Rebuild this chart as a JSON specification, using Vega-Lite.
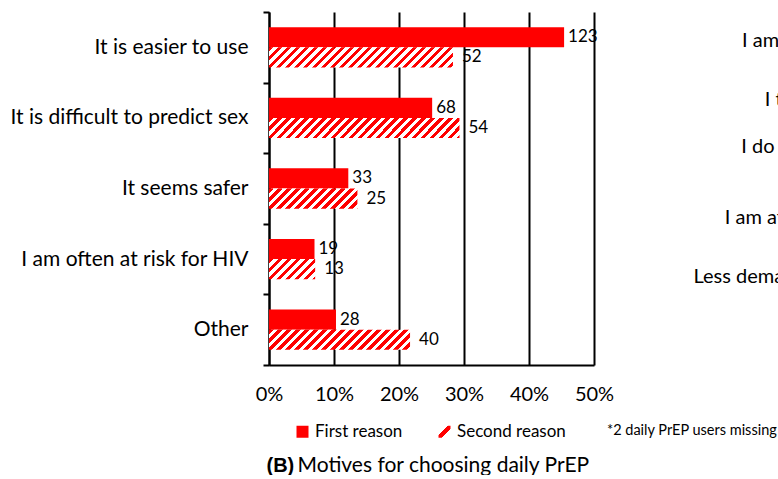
{
  "$schema": "https://vega.github.io/schema/vega-lite/v6.json",
  "padding": {"left": 9, "top": 1, "right": 0, "bottom": 0},
  "bounds": "flush",
  "spacing": 329,
  "config": {"view": {"stroke": null}, "font": "Lato"},
  "params": [
    {"name": "hatchStops", "value": [{"offset":0,"color":"#f00"},
{"offset":0.017857,"color":"#f00"},{"offset":0.017857,"color":"#fff"},
{"offset":0.035714,"color":"#fff"},{"offset":0.035714,"color":"#f00"},
{"offset":0.053571,"color":"#f00"},{"offset":0.053571,"color":"#fff"},
{"offset":0.071429,"color":"#fff"},{"offset":0.071429,"color":"#f00"},
{"offset":0.089286,"color":"#f00"},{"offset":0.089286,"color":"#fff"},
{"offset":0.107143,"color":"#fff"},{"offset":0.107143,"color":"#f00"},
{"offset":0.125,"color":"#f00"},{"offset":0.125,"color":"#fff"},
{"offset":0.142857,"color":"#fff"},{"offset":0.142857,"color":"#f00"},
{"offset":0.160714,"color":"#f00"},{"offset":0.160714,"color":"#fff"},
{"offset":0.178571,"color":"#fff"},{"offset":0.178571,"color":"#f00"},
{"offset":0.196429,"color":"#f00"},{"offset":0.196429,"color":"#fff"},
{"offset":0.214286,"color":"#fff"},{"offset":0.214286,"color":"#f00"},
{"offset":0.232143,"color":"#f00"},{"offset":0.232143,"color":"#fff"},
{"offset":0.25,"color":"#fff"},{"offset":0.25,"color":"#f00"},
{"offset":0.267857,"color":"#f00"},{"offset":0.267857,"color":"#fff"},
{"offset":0.285714,"color":"#fff"},{"offset":0.285714,"color":"#f00"},
{"offset":0.303571,"color":"#f00"},{"offset":0.303571,"color":"#fff"},
{"offset":0.321429,"color":"#fff"},{"offset":0.321429,"color":"#f00"},
{"offset":0.339286,"color":"#f00"},{"offset":0.339286,"color":"#fff"},
{"offset":0.357143,"color":"#fff"},{"offset":0.357143,"color":"#f00"},
{"offset":0.375,"color":"#f00"},{"offset":0.375,"color":"#fff"},
{"offset":0.392857,"color":"#fff"},{"offset":0.392857,"color":"#f00"},
{"offset":0.410714,"color":"#f00"},{"offset":0.410714,"color":"#fff"},
{"offset":0.428571,"color":"#fff"},{"offset":0.428571,"color":"#f00"},
{"offset":0.446429,"color":"#f00"},{"offset":0.446429,"color":"#fff"},
{"offset":0.464286,"color":"#fff"},{"offset":0.464286,"color":"#f00"},
{"offset":0.482143,"color":"#f00"},{"offset":0.482143,"color":"#fff"},
{"offset":0.5,"color":"#fff"},{"offset":0.5,"color":"#f00"},
{"offset":0.517857,"color":"#f00"},{"offset":0.517857,"color":"#fff"},
{"offset":0.535714,"color":"#fff"},{"offset":0.535714,"color":"#f00"},
{"offset":0.553571,"color":"#f00"},{"offset":0.553571,"color":"#fff"},
{"offset":0.571429,"color":"#fff"},{"offset":0.571429,"color":"#f00"},
{"offset":0.589286,"color":"#f00"},{"offset":0.589286,"color":"#fff"},
{"offset":0.607143,"color":"#fff"},{"offset":0.607143,"color":"#f00"},
{"offset":0.625,"color":"#f00"},{"offset":0.625,"color":"#fff"},
{"offset":0.642857,"color":"#fff"},{"offset":0.642857,"color":"#f00"},
{"offset":0.660714,"color":"#f00"},{"offset":0.660714,"color":"#fff"},
{"offset":0.678571,"color":"#fff"},{"offset":0.678571,"color":"#f00"},
{"offset":0.696429,"color":"#f00"},{"offset":0.696429,"color":"#fff"},
{"offset":0.714286,"color":"#fff"},{"offset":0.714286,"color":"#f00"},
{"offset":0.732143,"color":"#f00"},{"offset":0.732143,"color":"#fff"},
{"offset":0.75,"color":"#fff"},{"offset":0.75,"color":"#f00"},
{"offset":0.767857,"color":"#f00"},{"offset":0.767857,"color":"#fff"},
{"offset":0.785714,"color":"#fff"},{"offset":0.785714,"color":"#f00"},
{"offset":0.803571,"color":"#f00"},{"offset":0.803571,"color":"#fff"},
{"offset":0.821429,"color":"#fff"},{"offset":0.821429,"color":"#f00"},
{"offset":0.839286,"color":"#f00"},{"offset":0.839286,"color":"#fff"},
{"offset":0.857143,"color":"#fff"},{"offset":0.857143,"color":"#f00"},
{"offset":0.875,"color":"#f00"},{"offset":0.875,"color":"#fff"},
{"offset":0.892857,"color":"#fff"},{"offset":0.892857,"color":"#f00"},
{"offset":0.910714,"color":"#f00"},{"offset":0.910714,"color":"#fff"},
{"offset":0.928571,"color":"#fff"},{"offset":0.928571,"color":"#f00"},
{"offset":0.946429,"color":"#f00"},{"offset":0.946429,"color":"#fff"},
{"offset":0.964286,"color":"#fff"},{"offset":0.964286,"color":"#f00"},
{"offset":0.982143,"color":"#f00"},{"offset":0.982143,"color":"#fff"},
{"offset":1,"color":"#fff"}]}
  ],
  "hconcat": [
    {
      "width": 325,
      "height": 353,
      "data": {"values": [
        {"reason": "It is easier to use", "series": "First reason", "n": 123, "pct": 0.454},
        {"reason": "It is easier to use", "series": "Second reason", "n": 52, "pct": 0.283},
        {"reason": "It is difficult to predict sex", "series": "First reason", "n": 68, "pct": 0.251},
        {"reason": "It is difficult to predict sex", "series": "Second reason", "n": 54, "pct": 0.293},
        {"reason": "It seems safer", "series": "First reason", "n": 33, "pct": 0.122},
        {"reason": "It seems safer", "series": "Second reason", "n": 25, "pct": 0.136},
        {"reason": "I am often at risk for HIV", "series": "First reason", "n": 19, "pct": 0.070},
        {"reason": "I am often at risk for HIV", "series": "Second reason", "n": 13, "pct": 0.071},
        {"reason": "Other", "series": "First reason", "n": 28, "pct": 0.103},
        {"reason": "Other", "series": "Second reason", "n": 40, "pct": 0.217}
      ]},
      "encoding": {
        "y": {
          "field": "reason", "type": "nominal",
          "sort": ["It is easier to use", "It is difficult to predict sex", "It seems safer", "I am often at risk for HIV", "Other"],
          "scale": {"paddingInner": 0, "paddingOuter": 0},
          "axis": {
            "title": "(B)", "titleAngle": 0, "titleX": -3, "titleY": 453, "titleAlign": "left", "titleBaseline": "middle",
            "titleFont": "Liberation Sans", "titleFontSize": 20, "titleFontWeight": "bold", "titleColor": "black",
            "labelFont": "Lato", "labelFontSize": 21, "labelColor": "black", "labelPadding": 15, "labelLimit": 400,
            "tickBand": "extent", "tickSize": 6, "tickColor": "black", "tickWidth": 2,
            "domainColor": "black", "domainWidth": 2, "grid": false
          }
        },
        "yOffset": {"field": "series", "type": "nominal", "sort": ["First reason", "Second reason"], "scale": {"paddingOuter": 0.75, "paddingInner": 0}},
        "x": {
          "field": "pct", "type": "quantitative",
          "scale": {"domain": [0, 0.5], "nice": false},
          "axis": {
            "title": "Motives for choosing daily PrEP", "titleX": 28, "titleY": 100, "titleAlign": "left", "titleBaseline": "middle",
            "titleFont": "Lato", "titleFontSize": 21, "titleFontWeight": "normal", "titleColor": "black",
            "values": [0, 0.1, 0.2, 0.3, 0.4, 0.5], "format": ".0%", "labelFlush": false,
            "labelFont": "Lato", "labelFontSize": 20, "labelColor": "black", "labelPadding": 19,
            "ticks": false, "tickSize": 0, "domainColor": "black", "domainWidth": 2,
            "grid": true, "gridColor": "black", "gridWidth": 2, "gridOpacity": 1
          }
        }
      },
      "layer": [
        {
          "mark": {"type": "bar"},
          "encoding": {
            "fill": {
              "field": "series", "type": "nominal",
              "scale": {"domain": ["First reason", "Second reason"], "range": ["#ff0000", {"expr": "{gradient:'linear',x1:0,y1:0,x2:1,y2:1,stops:[{offset:0,color:'#fff'},{offset:0.4,color:'#fff'},{offset:0.4,color:'#f00'},{offset:0.62,color:'#f00'},{offset:0.62,color:'#fff'},{offset:1,color:'#fff'}]}"}]},
              "condition": {"test": "datum.series === 'Second reason'", "value": {"expr": "{gradient:'linear',x1:0,y1:0,x2:252*datum.pct*650/(pow(datum.pct*650,2)+400),y2:5040/(pow(datum.pct*650,2)+400),stops:hatchStops}"}},
              "legend": {
                "orient": "none", "legendX": 25, "legendY": 411, "direction": "horizontal",
                "title": "*2 daily PrEP users missing", "titleOrient": "right", "titleFontSize": 14.5, "titleFontWeight": "normal",
                "titleFont": "Lato", "titlePadding": 41, "titleColor": "black", "titleBaseline": "middle",
                "labelFontSize": 17, "labelFont": "Lato", "labelColor": "black", "labelOffset": 4,
                "symbolType": "square", "symbolSize": 144, "symbolStrokeWidth": 0, "columnPadding": 33
              }
            }
          }
        },
        {
          "mark": {"type": "text", "align": "left", "baseline": "middle", "dx": {"expr": "datum.series === 'Second reason' ? 9 : 4"}, "fontSize": 17, "font": "Lato", "color": "black"},
          "encoding": {"text": {"field": "n", "type": "quantitative"}}
        }
      ]
    },
    {
      "width": 200,
      "height": 353,
      "data": {"values": [
        {"motive": "I am not often at risk"},
        {"motive": "I take fewer doses"},
        {"motive": "I do not want to take|pills every day"},
        {"motive": "I am afraid of toxicities"},
        {"motive": "Less demanding than daily"},
        {"motive": "Other"}
      ]},
      "mark": {"type": "rule", "color": "white"},
      "encoding": {
        "y": {
          "field": "motive", "type": "nominal", "sort": null,
          "scale": {"paddingInner": 0, "paddingOuter": 0},
          "axis": {
            "title": null, "ticks": false, "domain": false, "labelPadding": 0, "labelLimit": 400,
            "labelFontSize": 20, "labelFont": "Lato", "labelColor": "black",
            "labelExpr": "split(datum.label, '|')", "labelLineHeight": 22,
            "labelOffset": {"condition": {"test": "indexof(datum.value, '|') >= 0", "value": -12}, "value": 0}
          }
        }
      }
    }
  ]
}
